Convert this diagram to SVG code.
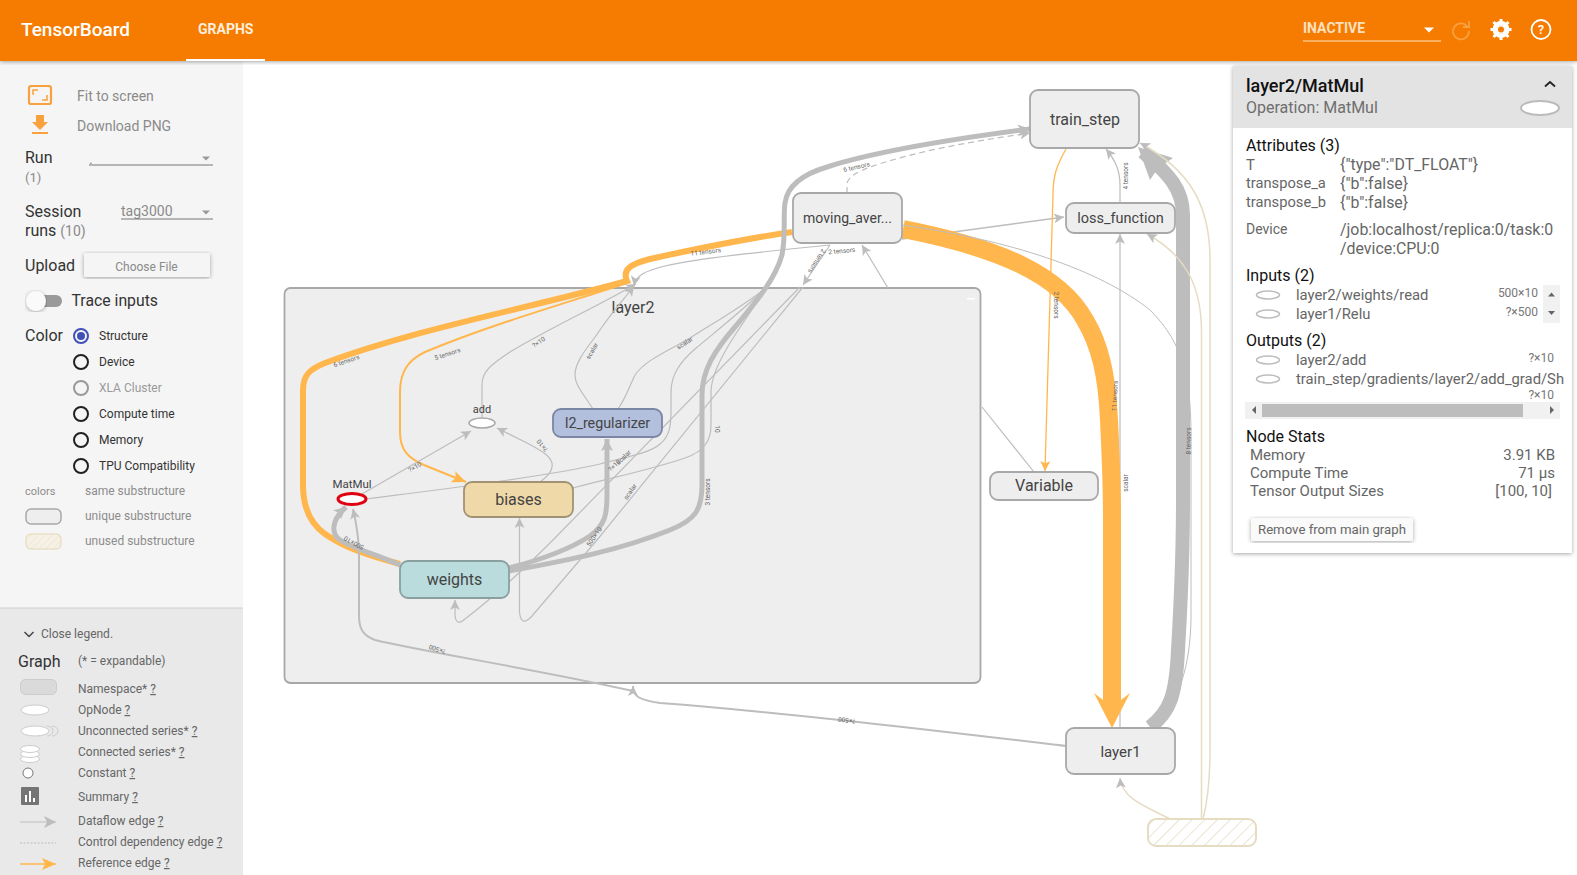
<svg xmlns="http://www.w3.org/2000/svg" width="1577" height="875" viewBox="0 0 1577 875">
<style>
text{font-family:Roboto,"Liberation Sans",sans-serif;fill:#424242}
.e{fill:none;stroke:#bdbdbd;stroke-width:1.2}
.e2{fill:none;stroke:#bdbdbd;stroke-width:2}
.t{fill:none;stroke:#bdbdbd;stroke-width:5}
.o{fill:none;stroke:#ffb74d}
.u{fill:none;stroke:#e5dcc2;stroke-width:1.5}
.a{marker-end:url(#ar)}
.l{font-size:6.5px;fill:#666}
.node{fill:#eee;stroke:#a8a8a8;stroke-width:1.8}
.nl{font-size:16px;text-anchor:middle;fill:#444}
.g{fill:#757575}
.side{font-size:14px;fill:#8a8a8a}
.rad{fill:none;stroke:#212121;stroke-width:2}
.r12{font-size:12px;fill:#333}
.s12{font-size:12px;fill:#8c8c8c}
.leg{font-size:12px;fill:#666}
.p15{font-size:15px;fill:#666}
.p16{font-size:15.900px;fill:#666}
.ph{font-size:16px;fill:#111}
.pe{fill:#fff;stroke:#bdbdbd;stroke-width:1.5}
.d12{font-size:12px;fill:#777;text-anchor:end}
</style>
<defs>
<marker id="ar" markerUnits="userSpaceOnUse" markerWidth="12" markerHeight="10" refX="10" refY="5" orient="auto"><path d="M0 0L10 5L0 10L2.5 5Z" fill="#bdbdbd"/></marker>
<marker id="ar2" markerUnits="userSpaceOnUse" markerWidth="14" markerHeight="14" refX="12" refY="7" orient="auto"><path d="M0 1L12 7L0 13L3 7Z" fill="#bdbdbd"/></marker>
<marker id="ao" markerUnits="userSpaceOnUse" markerWidth="12" markerHeight="10" refX="10" refY="5" orient="auto"><path d="M0 0L10 5L0 10L2.5 5Z" fill="#ffb74d"/></marker>
<marker id="ao2" markerUnits="userSpaceOnUse" markerWidth="16" markerHeight="14" refX="14" refY="7" orient="auto"><path d="M0 1L14 7L0 13L3 7Z" fill="#ffb74d"/></marker>
<pattern id="h" width="9" height="9" patternUnits="userSpaceOnUse" patternTransform="rotate(45)"><rect width="9" height="9" fill="#fff"/><line x1="0" y1="0" x2="0" y2="9" stroke="#e5dcc2" stroke-width="1.5"/></pattern>
<pattern id="h2" width="5" height="5" patternUnits="userSpaceOnUse" patternTransform="rotate(45)"><rect width="5" height="5" fill="#f5f1e6"/><line x1="0" y1="0" x2="0" y2="5" stroke="#efe8d6" stroke-width="2"/></pattern>
<filter id="sh" x="-5%" y="-5%" width="110%" height="110%"><feDropShadow dx="0" dy="1" stdDeviation="2" flood-color="#000" flood-opacity="0.35"/></filter>
</defs>
<rect width="1577" height="875" fill="#fff"/>

<g id="sidebar">
<rect x="0" y="61" width="243" height="547" fill="#f5f5f5"/>
<rect x="0" y="608" width="243" height="267" fill="#e9e9e9"/>
<line x1="0" y1="608" x2="243" y2="608" stroke="#d0d0d0"/>
<rect x="29" y="86" width="22" height="18" rx="2" fill="none" stroke="#f9a13c" stroke-width="2.2"/>
<path d="M33 95V90H38M47 95V100H42" fill="none" stroke="#f9a13c" stroke-width="1.5"/>
<path d="M36 115H44V122H48L40 130L32 122H36ZM32 132H48V134H32Z" fill="#f9a13c"/>
<text x="77" y="101" class="side">Fit to screen</text>
<text x="77" y="131" class="side">Download PNG</text>
<text x="25" y="163" font-size="16" style="fill:#333">Run</text>
<text x="25" y="182" font-size="13" style="fill:#8a8a8a">(1)</text>
<text x="89" y="164" font-size="14" style="fill:#888">.</text>
<line x1="89" y1="165" x2="213" y2="165" stroke="#777"/>
<path d="M202 156.500h8l-4 4z" fill="#999"/>
<text x="25" y="217" font-size="16" style="fill:#333">Session</text>
<text x="25" y="236" font-size="16" style="fill:#333">runs <tspan font-size="14" style="fill:#8a8a8a">(10)</tspan></text>
<text x="121" y="216" font-size="14" style="fill:#8a8a8a">tag3000</text>
<line x1="121" y1="219" x2="213" y2="219" stroke="#777"/>
<path d="M202 210.500h8l-4 4z" fill="#999"/>
<text x="25" y="271" font-size="16" style="fill:#333">Upload</text>
<rect x="84" y="253" width="126" height="24" rx="2" fill="#f5f5f5" filter="url(#sh)"/>
<text x="146.500" y="271" font-size="12" text-anchor="middle" style="fill:#8a8a8a">Choose File</text>
<rect x="30" y="295" width="32" height="12" rx="6" fill="#9a9a9a"/>
<circle cx="36" cy="301" r="10" fill="#fafafa" filter="url(#sh)"/>
<text x="71.500" y="306" font-size="15.800" style="fill:#333">Trace inputs</text>
<text x="25" y="341" font-size="16" style="fill:#333">Color</text>
<circle cx="81" cy="336" r="7" fill="none" stroke="#3f51b5" stroke-width="2"/><circle cx="81" cy="336" r="4" fill="#3f51b5"/>
<circle cx="81" cy="362" r="7" class="rad"/>
<circle cx="81" cy="388" r="7" fill="none" stroke="#999" stroke-width="2"/>
<circle cx="81" cy="414" r="7" class="rad"/>
<circle cx="81" cy="440" r="7" class="rad"/>
<circle cx="81" cy="466" r="7" class="rad"/>
<text x="99" y="340" class="r12">Structure</text>
<text x="99" y="366" class="r12">Device</text>
<text x="99" y="392" class="r12" style="fill:#9a9a9a">XLA Cluster</text>
<text x="99" y="418" class="r12">Compute time</text>
<text x="99" y="444" class="r12">Memory</text>
<text x="99" y="470" class="r12">TPU Compatibility</text>
<text x="25" y="495" class="s12" style="font-size:11px">colors</text>
<text x="85" y="495" class="s12">same substructure</text>
<rect x="26" y="509" width="35" height="15" rx="5" fill="#eee" stroke="#a8a8a8" stroke-width="1.5"/>
<text x="85" y="520" class="s12">unique substructure</text>
<rect x="26" y="534" width="35" height="15" rx="5" fill="url(#h2)" stroke="#e8dfc6" stroke-width="1.5"/>
<text x="85" y="545" class="s12">unused substructure</text>
<path d="M24.500 632L29 636.500L33.500 632" fill="none" stroke="#444" stroke-width="1.500"/>
<text x="41" y="638" class="leg">Close legend.</text>
<text x="18" y="667" font-size="16" style="fill:#333">Graph</text>
<text x="78" y="665" class="leg">(* = expandable)</text>
<rect x="20.500" y="679.500" width="36" height="15" rx="5" fill="#dadada" stroke="#ccc"/>
<ellipse cx="35" cy="710" rx="14" ry="5" fill="#fff" stroke="#ccc"/>
<path d="M47 726a6 5 0 0 1 0 10M52 726a6 5 0 0 1 0 10" fill="none" stroke="#ccc"/>
<ellipse cx="35" cy="731" rx="14" ry="5" fill="#fff" stroke="#ccc"/>
<g fill="#fff" stroke="#ccc"><ellipse cx="30" cy="759" rx="9.500" ry="3.500"/><ellipse cx="30" cy="754" rx="9.500" ry="3.500"/><ellipse cx="30" cy="749" rx="9.500" ry="3.500"/></g>
<circle cx="28" cy="773" r="5" fill="#fff" stroke="#777"/>
<rect x="21" y="787" width="18" height="18" rx="1" fill="#757575"/>
<path d="M25 795h2v7h-2zM29 791h2v11h-2zM33 798h2v4h-2z" fill="#fff"/>
<line x1="20" y1="822" x2="56" y2="822" class="e" marker-end="url(#ar2)"/>
<line x1="20" y1="843" x2="56" y2="843" class="e" stroke-dasharray="2 1.500"/>
<line x1="20" y1="864" x2="56" y2="864" class="o" stroke-width="1.300" marker-end="url(#ao2)"/>
<text x="78" y="693" class="leg">Namespace* <tspan text-decoration="underline">?</tspan></text>
<text x="78" y="714" class="leg">OpNode <tspan text-decoration="underline">?</tspan></text>
<text x="78" y="735" class="leg">Unconnected series* <tspan text-decoration="underline">?</tspan></text>
<text x="78" y="756" class="leg">Connected series* <tspan text-decoration="underline">?</tspan></text>
<text x="78" y="777" class="leg">Constant <tspan text-decoration="underline">?</tspan></text>
<text x="78" y="801" class="leg">Summary <tspan text-decoration="underline">?</tspan></text>
<text x="78" y="825" class="leg">Dataflow edge <tspan text-decoration="underline">?</tspan></text>
<text x="78" y="846" class="leg">Control dependency edge <tspan text-decoration="underline">?</tspan></text>
<text x="78" y="867" class="leg">Reference edge <tspan text-decoration="underline">?</tspan></text>
</g>

<g id="node-layer2">
<rect x="284.500" y="288" width="696" height="395" rx="6" class="node"/>
<text x="633" y="313" class="nl">layer2</text>
<rect x="967" y="298" width="8" height="1.500" fill="#fff"/>
</g>

<g id="connectors">
<path d="M400 564C370 556 345 548 325 534C308 522 303 505 303 485V390C303 375 310 369 325 363C420 328 530 308 627 281C622 270 630 264 650 259C700 248 750 238 792 232" class="o" stroke-width="6"/>
<path d="M627 283C560 305 490 325 425 352C408 360 400 372 400 392V432C400 450 408 458 424 465L466 482" class="o" stroke-width="2" marker-end="url(#ao2)"/>
<path d="M482 417V385C482 372 490 365 510 352C550 328 600 305 636 284" class="e" marker-end="url(#ar)"/>
<path d="M593 409C582 392 575 385 575 375C575 360 590 345 600 330C612 312 625 298 634 286" class="e" marker-end="url(#ar)"/>
<path d="M830 245C760 252 700 258 665 266C645 271 636 275 634 286" class="e" marker-end="url(#ar)"/>
<path d="M618 409C626 398 630 385 635 375C645 360 670 350 690 338C715 322 745 305 767 287" class="e"/>
<path d="M366 499C420 492 540 478 600 464C630 456 650 453 660 444C670 436 671 425 671 410V392C671 375 680 362 695 349C720 328 745 308 767 287" class="e"/>
<path d="M573 488C610 478 650 470 685 458C705 451 711 440 711 425V392C711 375 722 355 735 335C745 320 755 305 767 287" class="e"/>
<path d="M803 287L597 540L532 616Q521 628 519.500 612V518" class="e a"/>
<path d="M800 287L553 540C525 568 495 596 465 619Q456 627 455 615V600" class="e a"/>
<path d="M830 245L803 285" class="e a"/>
<path d="M888 288L862 245" class="e a"/>
<path d="M362 494L471 431" class="e a"/>
<path d="M540 482C550 475 553 468 552 463C550 455 540 450 525 442L497 428" class="e a"/>
<path d="M509 571C570 560 620 550 670 530C695 520 702 510 702 485V395C702 370 715 350 735 327C755 303 775 280 782 255C786 235 783 215 785 203C787 188 800 175 827 167C880 150 960 138 1030 129" class="t" marker-end="url(#ar2)"/>
<path d="M847 193V183C850 175 858 172 870 167C920 150 975 141 1030 133" class="e" stroke-dasharray="6 4" marker-end="url(#ar)"/>
<path d="M509 568C540 560 570 549 590 536C605 525 607 515 607 495V439" class="t" marker-end="url(#ar2)"/>
<path d="M400 565C380 556 350 547 340 540C331 534 331 520 346 507" class="t" marker-end="url(#ar2)"/>
<path d="M1066 746C930 730 780 712 660 703C640 700 633 697 633 686" class="e2" marker-end="url(#ar)"/>
<path d="M633 691C540 670 430 653 375 640C362 635 359 628 359 615V555C359 535 356 522 353 509" class="e2" marker-end="url(#ar)"/>
<path d="M902 239L1064 217" class="e" style="stroke-width:1.500px" marker-end="url(#ar)"/>
<path d="M1120 728V234" class="e a"/>
<path d="M903 229C1000 248 1060 275 1085 320C1100 345 1107 375 1109 420C1111 460 1112 490 1112 520V700" class="o" stroke-width="18"/>
<path d="M1112 728L1094 693L1103 700H1121L1130 693Z" fill="#ffb74d"/>
<path d="M1150 727C1170 712 1176 695 1178 650C1181 600 1183 560 1183 500V215C1183 190 1170 175 1143 152" class="o" style="stroke:#bdbdbd;stroke-width:14px"/>
<path d="M1138 147L1173 158L1158 168L1150 180Z" fill="#bdbdbd"/>
<path d="M902 225C1010 240 1100 270 1150 310C1185 345 1190 380 1191 430V620C1190 665 1180 700 1155 727" class="e" style="stroke-width:1px"/>
<path d="M1120 203V185C1120 170 1115 160 1106 149" class="e a"/>
<path d="M1066 149C1057 165 1053 175 1053 195L1045 471" class="o" stroke-width="1.300" marker-end="url(#ao)"/>
<path d="M982 407L1034 472" class="e"/>
<path d="M1170 819C1150 808 1122 800 1120 778" class="u" marker-end="url(#ar)"/>
<path d="M1201.500 819V330C1201 285 1185 255 1147 234" class="u" marker-end="url(#ar)"/>
<path d="M1203 819C1208 800 1210 780 1210 750V260C1210 205 1190 170 1140 143" class="u" marker-end="url(#ar)"/>
</g>

<g id="edge-labels">
<text class="l" text-anchor="middle" transform="translate(347 363) rotate(-18)">6 tensors</text>
<text class="l" text-anchor="middle" transform="translate(448 356) rotate(-18)">5 tensors</text>
<text class="l" text-anchor="middle" transform="translate(540 344) rotate(-35)">?×10</text>
<text class="l" text-anchor="middle" transform="translate(594 352) rotate(-60)">scalar</text>
<text class="l" text-anchor="middle" transform="translate(686 345) rotate(-33)">scalar</text>
<text class="l" text-anchor="middle" transform="translate(706 254) rotate(-7)">11 tensors</text>
<text class="l" text-anchor="middle" transform="translate(842 253) rotate(-5)">2 tensors</text>
<text class="l" text-anchor="middle" transform="translate(815 260) rotate(122)">2 tensors</text>
<text class="l" text-anchor="middle" transform="translate(857 169) rotate(-13)">6 tensors</text>
<text class="l" text-anchor="middle" transform="translate(715 429) rotate(90)">10</text>
<text class="l" text-anchor="middle" transform="translate(710 492) rotate(-90)">3 tensors</text>
<text class="l" text-anchor="middle" transform="translate(416 469) rotate(-30)">?×10</text>
<text class="l" text-anchor="middle" transform="translate(544 444) rotate(230)">?×10</text>
<text class="l" text-anchor="middle" transform="translate(616 467) rotate(-45)">?×10</text>
<text class="l" text-anchor="middle" transform="translate(625 459) rotate(-45)">scalar</text>
<text class="l" text-anchor="middle" transform="translate(632 493) rotate(-55)">scalar</text>
<text class="l" text-anchor="middle" transform="translate(596 538) rotate(-55)">500×10</text>
<text class="l" text-anchor="middle" transform="translate(355 541) rotate(208)">500×10</text>
<text class="l" text-anchor="middle" transform="translate(438 647) rotate(197)">?×500</text>
<text class="l" text-anchor="middle" transform="translate(847 718) rotate(187)">?×500</text>
<text class="l" text-anchor="middle" transform="translate(1054 305) rotate(90)">2 tensors</text>
<text class="l" text-anchor="middle" transform="translate(1117 396) rotate(-87)">11 tensors</text>
<text class="l" text-anchor="middle" transform="translate(1128 483) rotate(-90)">scalar</text>
<text class="l" text-anchor="middle" transform="translate(1128 176) rotate(-90)">4 tensors</text>
<text class="l" text-anchor="middle" transform="translate(1191 441) rotate(-90)">8 tensors</text>
</g>

<g id="node-train_step"><rect x="1030" y="90" width="109" height="58" rx="8" class="node"/><text x="1085" y="125" class="nl">train_step</text></g>
<g id="node-moving_average"><rect x="793" y="193" width="109" height="50" rx="8" class="node"/><text x="847.500" y="223" class="nl" style="font-size:14px">moving_aver...</text></g>
<g id="node-loss_function"><rect x="1066" y="203" width="109" height="30" rx="8" class="node"/><text x="1120.500" y="223" class="nl" style="font-size:14.500px">loss_function</text></g>
<g id="node-Variable"><rect x="990" y="472" width="108" height="28" rx="8" class="node"/><text x="1044" y="491" class="nl">Variable</text></g>
<g id="node-layer1"><rect x="1066" y="728" width="109" height="46" rx="8" class="node"/><text x="1120.500" y="757" class="nl" style="font-size:15px">layer1</text></g>
<g id="node-unused"><rect x="1148" y="819" width="108" height="27" rx="8" fill="url(#h)" stroke="#e5dcc2" stroke-width="2"/></g>
<g id="node-weights"><rect x="400" y="561" width="109" height="37" rx="8" fill="#badcdd" stroke="#8a9fa0" stroke-width="1.800"/><text x="454.500" y="585" class="nl">weights</text></g>
<g id="node-biases"><rect x="464" y="482" width="109" height="35" rx="8" fill="#f0d9a8" stroke="#a09272" stroke-width="1.800"/><text x="518.500" y="505" class="nl">biases</text></g>
<g id="node-l2_regularizer"><rect x="553" y="409" width="109" height="28" rx="8" fill="#b2bfdd" stroke="#7a86a3" stroke-width="1.800"/><text x="607.500" y="428" class="nl" style="font-size:14.300px">l2_regularizer</text></g>
<g id="node-add"><ellipse cx="482" cy="423" rx="13" ry="5" fill="#fff" stroke="#a8a8a8" stroke-width="1.500"/><text x="482" y="413" class="nl" style="font-size:11px">add</text></g>
<g id="node-MatMul"><ellipse cx="352" cy="499" rx="14" ry="5.500" fill="#fff" stroke="#e0000f" stroke-width="3"/><text x="352" y="488" class="nl" style="font-size:11.500px">MatMul</text></g>

<g id="header">
<rect width="1577" height="61" fill="#f57c00" filter="url(#sh)"/>
<text x="21" y="36" font-size="19" font-weight="500" style="fill:#fff">TensorBoard</text>
<text x="198" y="34" font-size="14" font-weight="700" style="fill:#ffeedd">GRAPHS</text>
<rect x="186" y="59" width="79" height="2" fill="#fff"/>
<text x="1303" y="33" font-size="14" font-weight="700" style="fill:#ffe0c0">INACTIVE</text>
<line x1="1303" y1="41" x2="1441" y2="41" stroke="#ffe0c0"/>
<path d="M1424 27.500h10l-5 5z" fill="#fff"/>
<path d="M1467 26A8 8 0 1 0 1469 31M1469 21V27H1463" fill="none" stroke="#f9a03f" stroke-width="1.800"/>
<circle cx="1501" cy="29.500" r="6.500" fill="none" stroke="#fff" stroke-width="4"/>
<path d="M1501 19V40M1490.500 29.500H1511.500M1493.500 22L1508.500 37M1508.500 22L1493.500 37" stroke="#fff" stroke-width="3"/>
<circle cx="1501" cy="29.500" r="3" fill="#f57c00"/>
<circle cx="1541" cy="29.500" r="9.500" fill="none" stroke="#fff" stroke-width="1.800"/>
<text x="1541" y="34" font-size="13" font-weight="500" text-anchor="middle" style="fill:#fff">?</text>
</g>

<g id="info-panel">
<rect x="1233" y="66" width="339" height="487" fill="#fff" filter="url(#sh)"/>
<rect x="1233" y="66" width="339" height="62" fill="#e3e3e3"/>
<text x="1246" y="92" font-size="18" font-weight="500" style="fill:#111">layer2/MatMul</text>
<text x="1246" y="113" font-size="16" style="fill:#6e6e6e">Operation: MatMul</text>
<path d="M1545 86.500L1550 82L1555 86.500" fill="none" stroke="#222" stroke-width="1.800"/>
<ellipse cx="1540" cy="108" rx="19" ry="7" fill="#fff" stroke="#bbb" stroke-width="2"/>
<text x="1246" y="151" class="ph">Attributes (3)</text>
<text x="1246" y="170" class="p15">T</text><text x="1340" y="170" class="p16">{"type":"DT_FLOAT"}</text>
<text x="1246" y="188" class="p15" style="font-size:14.700px">transpose_a</text><text x="1340" y="189" class="p16">{"b":false}</text>
<text x="1246" y="207" class="p15" style="font-size:14.700px">transpose_b</text><text x="1340" y="208" class="p16">{"b":false}</text>
<text x="1246" y="234" font-size="14" style="fill:#666">Device</text><text x="1340" y="235" class="p16">/job:localhost/replica:0/task:0</text>
<text x="1340" y="254" class="p16">/device:CPU:0</text>
<text x="1246" y="281" class="ph">Inputs (2)</text>
<ellipse cx="1268" cy="295" rx="11.500" ry="4" class="pe"/><text x="1296" y="300" class="p15" style="font-size:14.800px">layer2/weights/read</text><text x="1538" y="297" class="d12">500×10</text>
<ellipse cx="1268" cy="314" rx="11.500" ry="4" class="pe"/><text x="1296" y="319" class="p15" style="font-size:14.800px">layer1/Relu</text><text x="1538" y="316" class="d12">?×500</text>
<rect x="1543" y="285" width="17" height="38" fill="#f1f1f1"/>
<path d="M1548 296.500h7l-3.500-4zM1548 311h7l-3.500 4z" fill="#666"/>
<text x="1246" y="346" class="ph">Outputs (2)</text>
<ellipse cx="1268" cy="360" rx="11.500" ry="4" class="pe"/><text x="1296" y="365" class="p15" style="font-size:14.800px">layer2/add</text><text x="1554" y="362" class="d12">?×10</text>
<ellipse cx="1268" cy="379" rx="11.500" ry="4" class="pe"/><text x="1296" y="384" class="p15" style="font-size:14.800px">train_step/gradients/layer2/add_grad/Sh</text><text x="1554" y="399" class="d12">?×10</text>
<rect x="1245" y="402" width="315" height="17" fill="#f1f1f1"/>
<rect x="1262" y="404" width="261" height="13" fill="#bdbdbd"/>
<path d="M1256 406v8l-4-4zM1550 406v8l4-4z" fill="#666"/>
<text x="1246" y="442" class="ph">Node Stats</text>
<text x="1250" y="460" class="p15">Memory</text><text x="1555" y="460" class="p15" text-anchor="end">3.91 KB</text>
<text x="1250" y="478" class="p15">Compute Time</text><text x="1555" y="478" class="p15" text-anchor="end">71 µs</text>
<text x="1250" y="496" class="p15">Tensor Output Sizes</text><text x="1552" y="496" class="p15" text-anchor="end">[100, 10]</text>
<rect x="1251" y="518" width="162" height="23" rx="2" fill="#fafafa" filter="url(#sh)"/>
<text x="1258" y="534" font-size="13.200" style="fill:#666">Remove from main graph</text>
</g>
</svg>
